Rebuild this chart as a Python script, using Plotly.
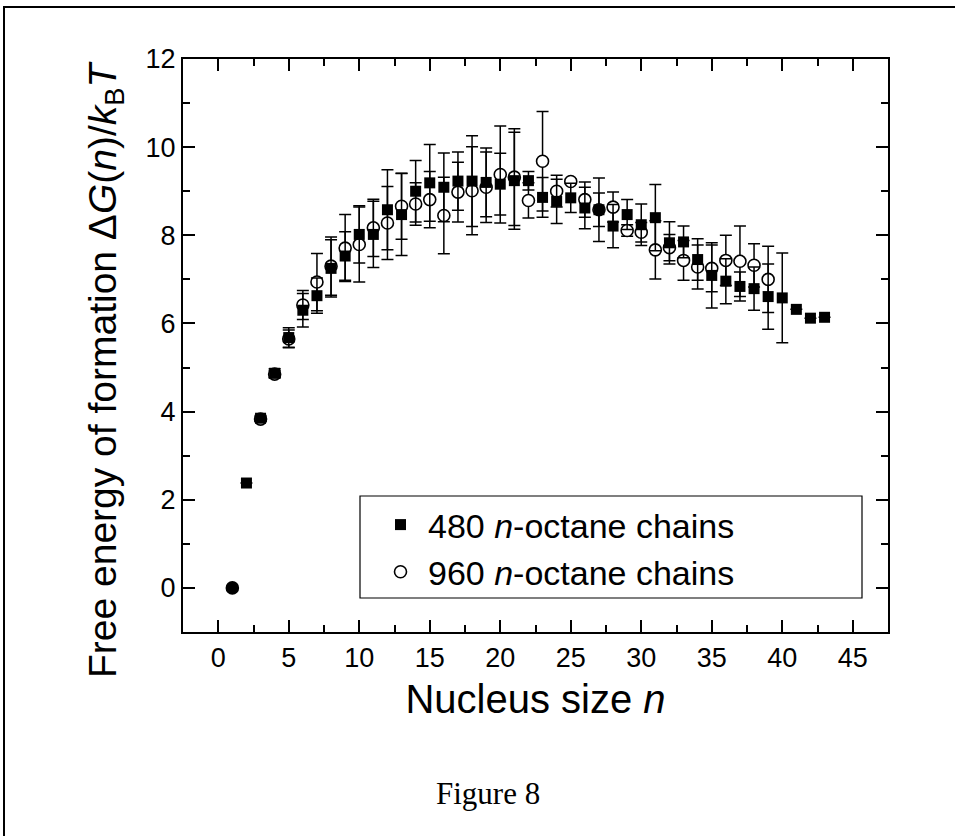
import plotly.graph_objects as go

# ---- data ----
n480 = [2, 3, 4, 5, 6, 7, 8, 9, 10, 11, 12, 13, 14, 15, 16, 17, 18, 19, 20, 21, 22,
        23, 24, 25, 26, 27, 28, 29, 30, 31, 32, 33, 34, 35, 36, 37, 38, 39, 40, 41, 42, 43]
g480 = [2.38, 3.85, 4.87, 5.68, 6.30, 6.63, 7.25, 7.53, 8.02, 8.02, 8.58, 8.47, 9.00, 9.19,
        9.09, 9.23, 9.23, 9.20, 9.16, 9.24, 9.24, 8.86, 8.77, 8.85, 8.62, 8.58, 8.21, 8.47,
        8.24, 8.40, 7.83, 7.85, 7.45, 7.09, 6.96, 6.84, 6.79, 6.61, 6.58, 6.32, 6.12, 6.14]
e480 = [0.0, 0.06, 0.10, 0.22, 0.38, 0.40, 0.65, 0.55, 0.65, 0.75, 0.91, 0.93, 0.70, 0.87,
        0.78, 0.66, 1.03, 0.78, 0.70, 1.10, 0.21, 0.45, 0.50, 0.33, 0.47, 0.72, 0.49, 0.34,
        0.47, 0.75, 0.48, 0.36, 0.47, 0.74, 0.51, 0.33, 0.49, 0.74, 1.02, 0.0, 0.0, 0.0]

n960 = [1, 3, 4, 5, 6, 7, 8, 9, 10, 11, 12, 13, 14, 15, 16, 17, 18, 19, 20, 21, 22,
        23, 24, 25, 26, 27, 28, 29, 30, 31, 32, 33, 34, 35, 36, 37, 38, 39]
g960 = [0.0, 3.83, 4.85, 5.65, 6.42, 6.94, 7.30, 7.71, 7.79, 8.17, 8.28, 8.66, 8.71, 8.81,
        8.45, 8.98, 9.01, 9.09, 9.38, 9.32, 8.79, 9.68, 9.00, 9.22, 8.81, 8.58, 8.64, 8.11,
        8.07, 7.67, 7.72, 7.43, 7.28, 7.25, 7.43, 7.41, 7.32, 7.00]
e960 = [0.0, 0.05, 0.08, 0.20, 0.33, 0.65, 0.66, 0.76, 0.85, 0.65, 0.83, 0.75, 0.48, 0.64,
        0.87, 0.68, 1.00, 0.80, 1.10, 1.10, 0.40, 1.13, 0.36, 0.05, 0.40, 0.38, 0.34, 0.13,
        0.22, 0.66, 0.30, 0.45, 0.50, 0.53, 0.57, 0.80, 0.49, 0.75]

x_ticks = [0, 5, 10, 15, 20, 25, 30, 35, 40, 45]
x_minor = [2.5, 7.5, 12.5, 17.5, 22.5, 27.5, 32.5, 37.5, 42.5]
y_ticks = [0, 2, 4, 6, 8, 10, 12]
y_minor = [1, 3, 5, 7, 9, 11]

FONT = "Liberation Sans, Arial, sans-serif"

fig = go.Figure()

# 960 chains (open circles) drawn first; the origin point (n=1) appears solid
fig.add_trace(go.Scatter(
    x=n960[:1], y=g960[:1], mode="markers", showlegend=False,
    marker=dict(symbol="circle", size=12, color="black",
                line=dict(color="black", width=1.6)),
))
fig.add_trace(go.Scatter(
    x=n960[1:], y=g960[1:], mode="markers",
    name="960 <i>n</i>-octane chains", legendrank=2,
    marker=dict(symbol="circle", size=12, color="white",
                line=dict(color="black", width=1.6)),
    error_y=dict(type="data", array=e960[1:], visible=True, color="black",
                 thickness=1.5, width=6),
))

# 480 chains (filled squares)
fig.add_trace(go.Scatter(
    x=n480, y=g480, mode="markers",
    name="480 <i>n</i>-octane chains", legendrank=1,
    marker=dict(symbol="square", size=11, color="black",
                line=dict(color="black", width=0)),
    error_y=dict(type="data", array=e480, visible=True, color="black",
                 thickness=1.5, width=6),
))

L, R, T, B = 183, 67, 59, 204
W, H = 955, 836
pw, ph = W - L - R, H - T - B


def px_x(p):
    return (p - L) / pw


def px_y(p):
    return (H - B - p) / ph


axis_common = dict(
    showline=True, linecolor="black", linewidth=2.2, mirror="allticks",
    ticks="inside", ticklen=12, tickwidth=2, tickcolor="black",
    showgrid=False, zeroline=False,
    tickfont=dict(family=FONT, size=27, color="black"),
)

fig.update_xaxes(
    range=[-2.5, 47.5], tickvals=x_ticks, ticktext=[str(v) for v in x_ticks],
    minor=dict(tickvals=x_minor, ticklen=7, tickwidth=2,
               tickcolor="black", ticks="inside", showgrid=False),
    title=dict(text="Nucleus size <i>n</i>", font=dict(family=FONT, size=40, color="black"),
               standoff=13),
    **axis_common,
)
fig.update_yaxes(
    range=[-1, 12], tickvals=y_ticks, ticktext=[str(v) for v in y_ticks],
    minor=dict(tickvals=y_minor, ticklen=7, tickwidth=2,
               tickcolor="black", ticks="inside", showgrid=False),
    **axis_common,
)

fig.update_layout(
    width=W, height=H,
    margin=dict(l=L, r=R, t=T, b=B, pad=0),
    paper_bgcolor="white", plot_bgcolor="white",
    showlegend=True,
    legend=dict(
        x=px_x(373), y=px_y(496), xanchor="left", yanchor="top",
        bgcolor="rgba(0,0,0,0)", borderwidth=0,
        font=dict(family=FONT, size=34, color="black"),
        itemwidth=45, tracegroupgap=0,
    ),
    shapes=[
        # legend box
        dict(type="rect", xref="paper", yref="paper",
             x0=px_x(360), x1=px_x(862), y0=px_y(598), y1=px_y(496),
             line=dict(color="black", width=1.2), fillcolor="rgba(0,0,0,0)", layer="above"),
        # outer frame
        dict(type="rect", xref="paper", yref="paper",
             x0=px_x(4), x1=px_x(980), y0=px_y(860), y1=px_y(7),
             line=dict(color="black", width=2), fillcolor="rgba(0,0,0,0)"),
    ],
    annotations=[
        dict(text="Free energy of formation Δ<i>G</i>(<i>n</i>)/<i>k</i><sub>B</sub><i>T</i>",
             xref="paper", yref="paper", x=px_x(106), y=px_y(369),
             xanchor="center", yanchor="middle", textangle=-90, showarrow=False,
             font=dict(family=FONT, size=39, color="black")),
        dict(text="Figure 8", xref="paper", yref="paper", x=px_x(488), y=px_y(793),
             xanchor="center", yanchor="middle", showarrow=False,
             font=dict(family="Liberation Serif, Times New Roman, serif", size=31, color="black")),
    ],
)

fig.write_html("out.html", config={"displayModeBar": False},
               post_script="document.body.style.margin='0';")
